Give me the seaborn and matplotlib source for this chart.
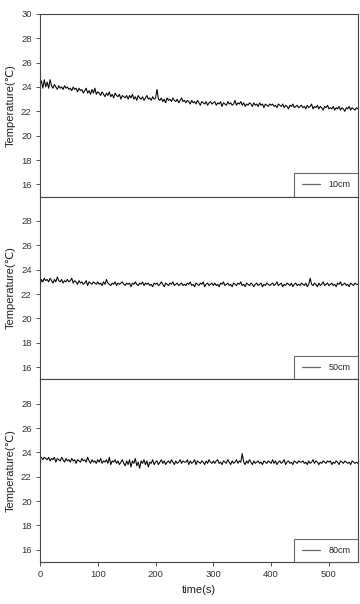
import numpy as np
import pandas as pd
import matplotlib
matplotlib.use('Agg')
import matplotlib.pyplot as plt
import seaborn as sns

time_s = np.arange(0, 552.5, 2.5)

temp_10cm = [24.2, 24.5, 23.9, 24.6, 24.0, 24.4, 23.9, 24.6, 24.1, 23.9, 24.2, 24.0, 23.8, 24.1, 23.9, 24.0, 23.8, 24.1, 23.9, 24.0, 23.8,
             23.9, 23.7, 24.0, 23.8, 23.9, 23.6, 23.9, 23.7, 23.8, 23.5, 23.7, 23.9, 23.5, 23.7, 23.4, 23.8, 23.5, 23.9, 23.4, 23.6,
             23.5, 23.3, 23.6, 23.4, 23.2, 23.5, 23.3, 23.6, 23.2, 23.4, 23.1, 23.5, 23.3, 23.2, 23.4, 23.0, 23.3, 23.2, 23.1, 23.3,
             23.0, 23.3, 23.1, 23.4, 23.0, 23.2, 22.9, 23.3, 23.1, 23.0, 23.2, 22.9, 23.1, 23.3, 23.0, 23.1, 22.9, 23.2, 23.0, 23.1,
             23.8, 23.0, 22.9, 23.1, 22.8, 23.0, 22.7, 23.1, 22.9, 23.0, 22.8, 23.1, 22.9, 22.8, 23.0, 22.7, 22.9, 23.1, 22.8, 22.9,
             22.7, 22.9, 22.8, 22.6, 22.9, 22.7, 22.8, 22.6, 22.9, 22.7, 22.5, 22.8, 22.7, 22.6, 22.8, 22.5, 22.7, 22.8, 22.6, 22.7,
             22.8, 22.5, 22.7, 22.6, 22.8, 22.4, 22.7, 22.6, 22.5, 22.8, 22.6, 22.7, 22.5, 22.6, 22.9, 22.5, 22.7, 22.6, 22.8, 22.5,
             22.7, 22.4, 22.6, 22.5, 22.7, 22.6, 22.4, 22.7, 22.5, 22.6, 22.4, 22.7, 22.5, 22.6, 22.3, 22.6, 22.5, 22.4, 22.6, 22.5,
             22.6, 22.4, 22.5, 22.3, 22.6, 22.5, 22.4, 22.6, 22.3, 22.5, 22.4, 22.2, 22.5, 22.4, 22.6, 22.3, 22.4, 22.5, 22.3, 22.4,
             22.5, 22.3, 22.4, 22.2, 22.5, 22.3, 22.4, 22.6, 22.2, 22.4, 22.3, 22.5, 22.2, 22.4, 22.3, 22.1, 22.4, 22.3, 22.5, 22.2,
             22.3, 22.2, 22.4, 22.1, 22.3, 22.2, 22.4, 22.1, 22.3, 22.2, 22.0, 22.3, 22.2, 22.4, 22.1, 22.3, 22.2, 22.1, 22.3, 22.2]

temp_50cm = [22.6, 23.2, 23.0, 23.3, 23.1, 23.2, 23.0, 23.3, 23.1, 22.9, 23.2, 23.0, 23.4, 23.1, 23.0, 23.2, 22.9, 23.1, 23.0, 23.2, 23.0,
             23.1, 23.3, 22.9, 23.1, 23.0, 22.8, 23.1, 22.9, 23.0, 22.8, 22.9, 23.1, 22.7, 23.0, 22.9, 22.8, 23.0, 22.9, 22.8, 23.0,
             22.8, 22.9, 22.7, 23.0, 22.8, 23.2, 22.9, 22.8, 22.7, 22.9, 22.8, 23.0, 22.7, 22.9, 22.8, 22.9, 23.0, 22.8, 22.7, 22.9,
             22.8, 22.9, 22.6, 22.9, 22.8, 23.0, 22.8, 22.7, 22.9, 22.8, 23.0, 22.7, 22.9, 22.8, 22.9, 22.7, 22.8, 22.6, 22.9, 22.8,
             22.9, 22.7, 22.8, 23.0, 22.8, 22.6, 22.9, 22.8, 22.7, 22.9, 22.8, 23.0, 22.7, 22.8, 22.9, 22.7, 22.8, 22.9, 22.7, 22.8,
             22.7, 22.9, 22.8, 23.0, 22.7, 22.8, 22.6, 22.9, 22.8, 22.7, 22.9, 22.8, 23.0, 22.6, 22.8, 22.9, 22.7, 22.8, 22.9, 22.7,
             22.9, 22.7, 22.8, 22.6, 22.9, 22.8, 23.0, 22.7, 22.8, 22.9, 22.7, 22.8, 22.6, 22.9, 22.8, 22.7, 22.9, 22.8, 23.0, 22.7,
             22.8, 22.6, 22.9, 22.8, 22.7, 22.9, 22.8, 22.6, 22.8, 22.9, 22.7, 22.8, 22.9, 22.6, 22.8, 22.7, 22.9, 22.8, 22.7, 22.8,
             22.9, 22.7, 22.8, 23.0, 22.7, 22.8, 22.9, 22.6, 22.8, 22.7, 22.9, 22.8, 22.7, 22.9, 22.6, 22.8, 22.9, 22.7, 22.8, 22.7,
             22.9, 22.8, 22.7, 22.9, 22.6, 22.8, 23.3, 22.8, 22.7, 22.9, 22.8, 22.6, 22.9, 22.7, 22.8, 23.0, 22.7, 22.8, 22.9, 22.7,
             22.8, 22.9, 22.7, 22.8, 22.6, 22.9, 22.8, 23.0, 22.7, 22.8, 22.9, 22.7, 22.8, 22.6, 22.9, 22.8, 22.7, 22.9, 22.8, 22.8]

temp_80cm = [23.5, 23.6, 23.4, 23.6, 23.5, 23.4, 23.6, 23.3, 23.5, 23.4, 23.6, 23.2, 23.5, 23.4, 23.3, 23.6, 23.4, 23.2, 23.5, 23.3, 23.4,
             23.2, 23.5, 23.3, 23.4, 23.1, 23.4, 23.3, 23.2, 23.5, 23.3, 23.4, 23.2, 23.6, 23.3, 23.1, 23.4, 23.2, 23.3, 23.1, 23.4,
             23.2, 23.5, 23.1, 23.3, 23.2, 23.4, 23.1, 23.6, 23.0, 23.3, 23.2, 23.4, 23.1, 23.3, 23.0, 23.2, 23.4, 23.1, 22.9, 23.3,
             23.0, 23.4, 22.8, 23.3, 23.1, 23.5, 22.9, 23.2, 22.7, 23.3, 23.1, 23.4, 23.0, 23.3, 22.8, 23.2, 23.1, 23.4, 23.0, 23.2,
             23.3, 23.0, 23.2, 23.4, 23.1, 23.3, 23.0, 23.2, 23.3, 23.1, 23.4, 23.2, 23.0, 23.3, 23.1, 23.2, 23.4, 23.1, 23.3, 23.2,
             23.2, 23.4, 23.0, 23.3, 23.1, 23.2, 23.4, 23.0, 23.3, 23.2, 23.1, 23.3, 23.2, 23.0, 23.3, 23.1, 23.4, 23.2, 23.1, 23.3,
             23.1, 23.3, 23.4, 23.1, 23.2, 23.0, 23.3, 23.2, 23.1, 23.4, 23.2, 23.0, 23.3, 23.1, 23.2, 23.4, 23.1, 23.3, 23.2, 23.9,
             23.2, 23.0, 23.3, 23.1, 23.4, 23.2, 23.0, 23.3, 23.1, 23.2, 23.3, 23.1, 23.2, 23.0, 23.3, 23.2, 23.1, 23.3, 23.2, 23.1,
             23.4, 23.1, 23.3, 23.0, 23.2, 23.3, 23.1, 23.2, 23.4, 23.0, 23.2, 23.3, 23.1, 23.2, 23.0, 23.3, 23.2, 23.1, 23.3, 23.2,
             23.2, 23.3, 23.1, 23.2, 23.0, 23.3, 23.1, 23.2, 23.4, 23.1, 23.3, 23.2, 23.0, 23.2, 23.1, 23.3, 23.2, 23.1, 23.3, 23.2,
             23.3, 23.0, 23.2, 23.1, 23.3, 23.2, 23.0, 23.3, 23.2, 23.1, 23.3, 23.2, 23.1, 23.2, 23.0, 23.3, 23.2, 23.1, 23.2, 23.1]

depths = ['10cm', '50cm', '80cm']
series = [temp_10cm, temp_50cm, temp_80cm]
x_ticks = [0, 100, 200, 300, 400, 500]

sns.set_style('ticks')
plt.rcParams['font.family'] = ['Liberation Sans', 'DejaVu Sans']

fig, axes = plt.subplots(3, 1, figsize=(3.6, 6.04), dpi=100, sharex=True)
fig.subplots_adjust(left=0.111, right=0.994, top=0.977, bottom=0.0695, hspace=0)

for i, (ax, depth, temps) in enumerate(zip(axes, depths, series)):
    df = pd.DataFrame({'time': time_s, 'temp': temps})
    sns.lineplot(data=df, x='time', y='temp', ax=ax, color='black', lw=0.75, label=depth)
    ax.set_xlim(0, 550)
    ax.set_ylim(15, 30)
    if i == 0:
        ax.set_yticks(range(16, 31, 2))
    else:
        ax.set_yticks(range(16, 29, 2))
    ax.set_ylabel('Temperature(℃)', fontsize=8, color='#222222')
    ax.set_xlabel('')
    ax.tick_params(axis='both', labelsize=6.8, length=3, width=0.6, colors='#333333', pad=3)
    for s in ax.spines.values():
        s.set_linewidth(0.8)
        s.set_color('#444444')
    leg = ax.legend(loc='lower right', fontsize=6.5, frameon=True, fancybox=False,
                    borderaxespad=0, handlelength=2.0, borderpad=0.8, handletextpad=1.0)
    leg.get_frame().set_edgecolor('#444444')
    leg.get_frame().set_linewidth(0.8)
    for h in leg.get_lines():
        h.set_color('#666666')
        h.set_linewidth(0.9)

axes[2].set_xticks(x_ticks)
axes[2].set_xlabel('time(s)', fontsize=8, color='#222222')
for ax in axes[:2]:
    ax.tick_params(axis='x', length=0)

fig.savefig('out.png', dpi=100)
